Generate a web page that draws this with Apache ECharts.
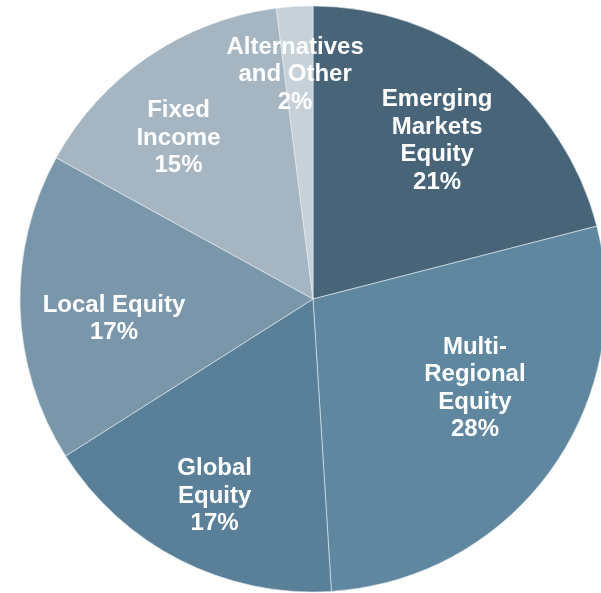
<!DOCTYPE html>
<html>
<head>
<meta charset="utf-8">
<script src="https://cdn.jsdelivr.net/npm/echarts@6/dist/echarts.min.js"></script>
<style>
html,body{margin:0;padding:0;background:#fff;}
#chart{width:601px;height:593px;}
</style>
</head>
<body>
<div id="chart"></div>
<script>
var categories = ['Emerging\nMarkets\nEquity', 'Multi-\nRegional\nEquity', 'Global\nEquity', 'Local Equity', 'Fixed\nIncome', 'Alternatives\nand Other'];
var values = [21, 28, 17, 17, 15, 2];
var colors = ['#476479', '#5f87a0', '#5a7f99', '#7a96ab', '#a6b5c2', '#c6d1d9'];
var labelOffsets = [[32.5, -40], [41, 1.5], [-30.5, 64], [-49.6, 15], [-50.5, -37], [-8.5, -75]];

var data = categories.map(function (c, i) {
  return {
    name: c,
    value: values[i],
    itemStyle: { color: colors[i] },
    label: { offset: labelOffsets[i] }
  };
});

var chart = echarts.init(document.getElementById('chart'), null, { renderer: 'canvas' });
chart.setOption({
  animation: false,
  series: [{
    type: 'pie',
    center: [313, 299],
    radius: [0, 293],
    startAngle: 90,
    clockwise: true,
    avoidLabelOverlap: false,
    itemStyle: { borderColor: '#e6ecf0', borderWidth: 0.6 },
    label: {
      show: true,
      position: 'inside',
      formatter: '{b}\n{c}%',
      color: '#ffffff',
      fontFamily: 'Arial, Liberation Sans, sans-serif',
      fontWeight: 'bold',
      fontSize: 24,
      lineHeight: 27.5,
      align: 'center'
    },
    labelLine: { show: false },
    emphasis: { disabled: true },
    data: data
  }]
});
</script>
</body>
</html>
